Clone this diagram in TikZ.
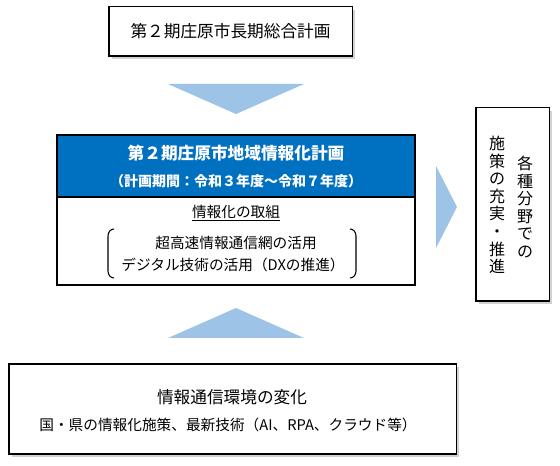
\documentclass[tikz,border=0pt]{standalone}
\usepackage{fontspec}
\setmainfont{Noto Sans CJK JP}
\usepackage{tikz}
\usetikzlibrary{shadows}
\definecolor{PlanBlue}{RGB}{0,112,192}
\definecolor{FlowBlue}{RGB}{157,195,230}
\tikzset{
  planbox/.style={draw, thick, fill=white, inner sep=0pt},
  shadowbox/.style={planbox, drop shadow={shadow xshift=2pt, shadow yshift=-2pt, opacity=0.3, fill=black!60}},
  flowtri/.style={fill=FlowBlue, draw=none},
  bigtext/.style={font=\fontsize{12.5}{14}\selectfont},
  midtext/.style={font=\fontsize{11}{13}\selectfont}
}

\begin{document}
\begin{tikzpicture}[x=0.75pt, y=-0.75pt]
    \useasboundingbox (0,0) rectangle (560,466);

    % Long-term plan
    \node[shadowbox, bigtext, minimum width=182.3pt, minimum height=36.8pt] (longplan) at (230.5,31.5) {第２期庄原市長期総合計画};
    \fill[flowtri] (168,84) -- (304,84) -- (236,114) -- cycle;

    % Info plan header and body
    \node[planbox, fill=PlanBlue, minimum width=268.5pt, minimum height=46.5pt] (infohead) at (236,166) {};
    \node[planbox, minimum width=268.5pt, minimum height=66pt] (infobody) at (236,241) {};
    \node[bigtext, text=white] (infotitle) at (236,153) {\bfseries 第２期庄原市地域情報化計画};
    \node[font=\fontsize{10.5}{12}\selectfont, text=white] (infoterm) at (236,181) {\bfseries （計画期間：令和３年度～令和７年度）};
    \node[midtext] (effort) at (236,213) {\underline{情報化の取組}};
    \node[midtext] (network) at (236,243) {超高速情報通信網の活用};
    \node[midtext] (digital) at (233,265) {デジタル技術の活用（DXの推進）};

    % Brackets
    \draw[thick] (114,229) to[out=180, in=90] (108,236) -- (108,271) to[out=-90, in=180] (114,278);
    \draw[thick] (350,229) to[out=0, in=90] (356,236) -- (356,271) to[out=-90, in=0] (350,278);

    % Measures in each field
    \fill[flowtri] (436,166) -- (457,207) -- (436,248) -- cycle;
    \node[shadowbox, minimum width=54.8pt, minimum height=144.8pt] (measures) at (512.5,204.5) {};
    \node[align=center, font=\fontsize{12}{13.2}\selectfont] (fieldcol) at (525,207) {各\\種\\分\\野\\で\\の};
    \node[align=center, font=\fontsize{12}{13.2}\selectfont] (measurecol) at (497,205) {施\\策\\の\\充\\実\\・\\推\\進};

    % Environment change
    \fill[flowtri] (168,338) -- (304,338) -- (236,308) -- cycle;
    \node[shadowbox, minimum width=335.3pt, minimum height=67.5pt] (envbox) at (232.5,409) {};
    \node[bigtext] (envtitle) at (232,397) {情報通信環境の変化};
    \node[midtext] (envnote) at (228,425) {国・県の情報化施策、最新技術（AI、RPA、クラウド等）};
\end{tikzpicture}
\end{document}
